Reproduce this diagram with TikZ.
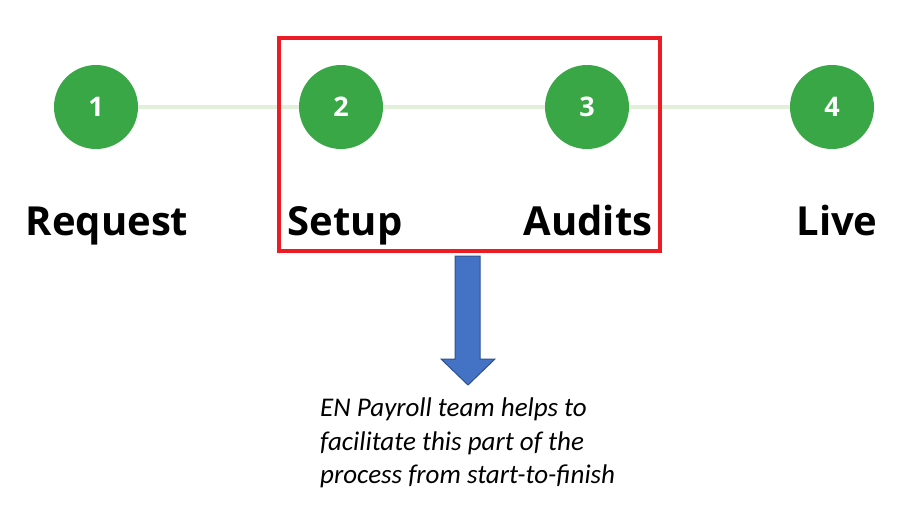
\documentclass[tikz,border=0pt]{standalone}
\usepackage{fontspec}
\usepackage{tikz}
\usetikzlibrary{positioning}
\newfontfamily\labelfont{Open Sans}
\newfontfamily\notefont{Carlito}
\definecolor{Cgreen}{RGB}{57,167,69}
\definecolor{Cline}{RGB}{226,239,218}
\definecolor{Cred}{RGB}{237,28,36}
\definecolor{Cblue}{RGB}{68,114,196}
\definecolor{Cblueb}{RGB}{47,82,143}

\begin{document}
\begin{tikzpicture}[x=1pt,y=-1pt,
    stepdot/.style={circle,fill=Cgreen,minimum size=84pt,inner sep=0pt,
      text=white,font=\labelfont\bfseries\fontsize{27}{27}\selectfont},
    steplabel/.style={font=\labelfont\bfseries\fontsize{40}{40}\selectfont,anchor=base}]
    \useasboundingbox (0,0) rectangle (899,520);
    % steps
    \foreach \n/\x/\lab/\lx in {1/96/Request/107,2/341/Setup/345,3/587/Audits/588,4/832/Live/837}{
      \node[stepdot] (s\n) at (\x,107) {\n};
      \node[steplabel] (l\n) at (\lx,235) {\lab};
    }
    \foreach \a/\b in {1/2,2/3,3/4}{
      \draw[Cline,line width=4pt] (s\a.east) -- (s\b.west);
    }
    % highlighted part
    \node[draw=Cred,line width=4pt,minimum width=381pt,minimum height=213pt,inner sep=0pt] (box) at (469.5,144.5) {};
    \filldraw[fill=Cblue,draw=Cblueb,line width=1pt]
      (455,256) -- (480,256) -- (480,359) -- (495,359) -- (468,385)
      -- (441,359) -- (455,359) -- cycle;
    \node[anchor=north west,align=left,inner sep=0pt,
      font=\notefont\itshape\fontsize{27}{33.5}\selectfont] (note) at (320,398)
      {EN Payroll team helps to\\facilitate this part of the\\process from start-to-finish};
  \end{tikzpicture}
\end{document}
